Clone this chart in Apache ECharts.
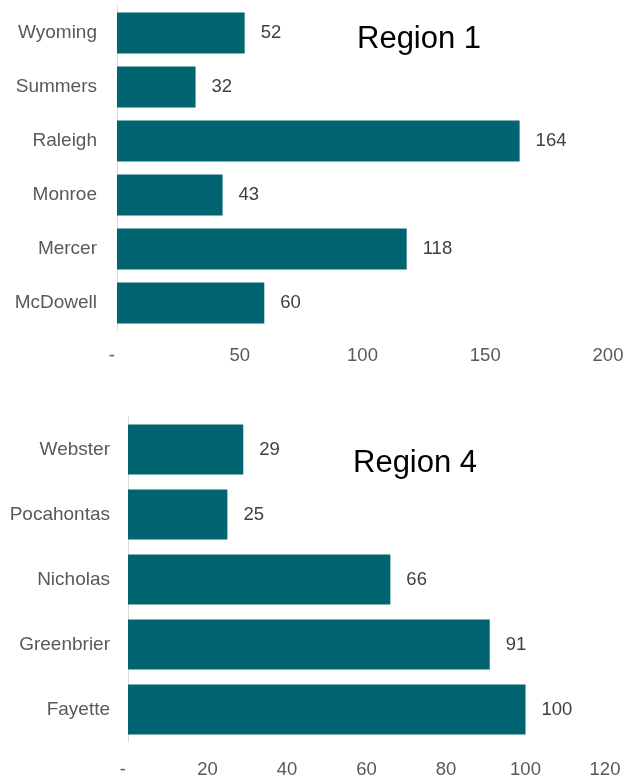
<!DOCTYPE html>
<html>
<head>
<meta charset="utf-8">
<script src="https://cdn.jsdelivr.net/npm/echarts@6/dist/echarts.min.js"></script>
<style>
  html, body { margin: 0; padding: 0; background: #fff; }
  #chart { width: 631px; height: 777px; }
</style>
</head>
<body>
<div id="chart"></div>
<script>
// Region 1 counties (top to bottom) and counts
const region1Counties = ['Wyoming', 'Summers', 'Raleigh', 'Monroe', 'Mercer', 'McDowell'];
const region1Values = [52, 32, 164, 43, 118, 60];
const region1Ticks = [0, 50, 100, 150, 200];

// Region 4 counties (top to bottom) and counts
const region4Counties = ['Webster', 'Pocahontas', 'Nicholas', 'Greenbrier', 'Fayette'];
const region4Values = [29, 25, 66, 91, 100];
const region4Ticks = [0, 20, 40, 60, 80, 100, 120];

const barColor = '#006570';
const font = 'Liberation Sans, Arial, sans-serif';

function valueAxis(gridIndex, ticks, margin) {
  return {
    type: 'value',
    gridIndex: gridIndex,
    min: ticks[0],
    max: ticks[ticks.length - 1],
    interval: ticks[1] - ticks[0],
    axisLine: { show: false },
    axisTick: { show: false },
    splitLine: { show: false },
    axisLabel: {
      color: '#595959',
      fontFamily: font,
      fontSize: 18.5,
      margin: margin,
      // zero is shown as a dash, nudged slightly left of the axis
      formatter: v => (v === 0 ? '-  ' : String(v))
    }
  };
}

function categoryAxis(gridIndex, names, margin) {
  return {
    type: 'category',
    gridIndex: gridIndex,
    data: names,
    inverse: true,
    axisLine: { show: true, lineStyle: { color: '#d9d9d9', width: 1 } },
    axisTick: { show: false },
    axisLabel: { color: '#595959', fontFamily: font, fontSize: 19, margin: margin }
  };
}

function barSeries(idx, values, gap) {
  return {
    type: 'bar',
    xAxisIndex: idx,
    yAxisIndex: idx,
    data: values,
    barCategoryGap: gap,
    itemStyle: { color: barColor },
    label: {
      show: true,
      position: 'right',
      distance: 16,
      color: '#404040',
      fontFamily: font,
      fontSize: 18.5
    },
    silent: true
  };
}

const chart = echarts.init(document.getElementById('chart'));
chart.setOption({
  animation: false,
  backgroundColor: '#ffffff',
  title: [
    { text: 'Region 1', left: 352, top: 19,
      textStyle: { fontFamily: font, fontSize: 31, fontWeight: 'normal', color: '#000' } },
    { text: 'Region 4', left: 348, top: 443,
      textStyle: { fontFamily: font, fontSize: 31, fontWeight: 'normal', color: '#000' } }
  ],
  grid: [
    { left: 117, top: 6, width: 491, height: 324, containLabel: false, outerBoundsMode: 'none' },
    { left: 128, top: 417, width: 477, height: 325, containLabel: false, outerBoundsMode: 'none' }
  ],
  xAxis: [valueAxis(0, region1Ticks, 16), valueAxis(1, region4Ticks, 18)],
  yAxis: [categoryAxis(0, region1Counties, 20), categoryAxis(1, region4Counties, 18)],
  series: [
    barSeries(0, region1Values, '24%'),
    barSeries(1, region4Values, '23%')
  ]
});
</script>
</body>
</html>
